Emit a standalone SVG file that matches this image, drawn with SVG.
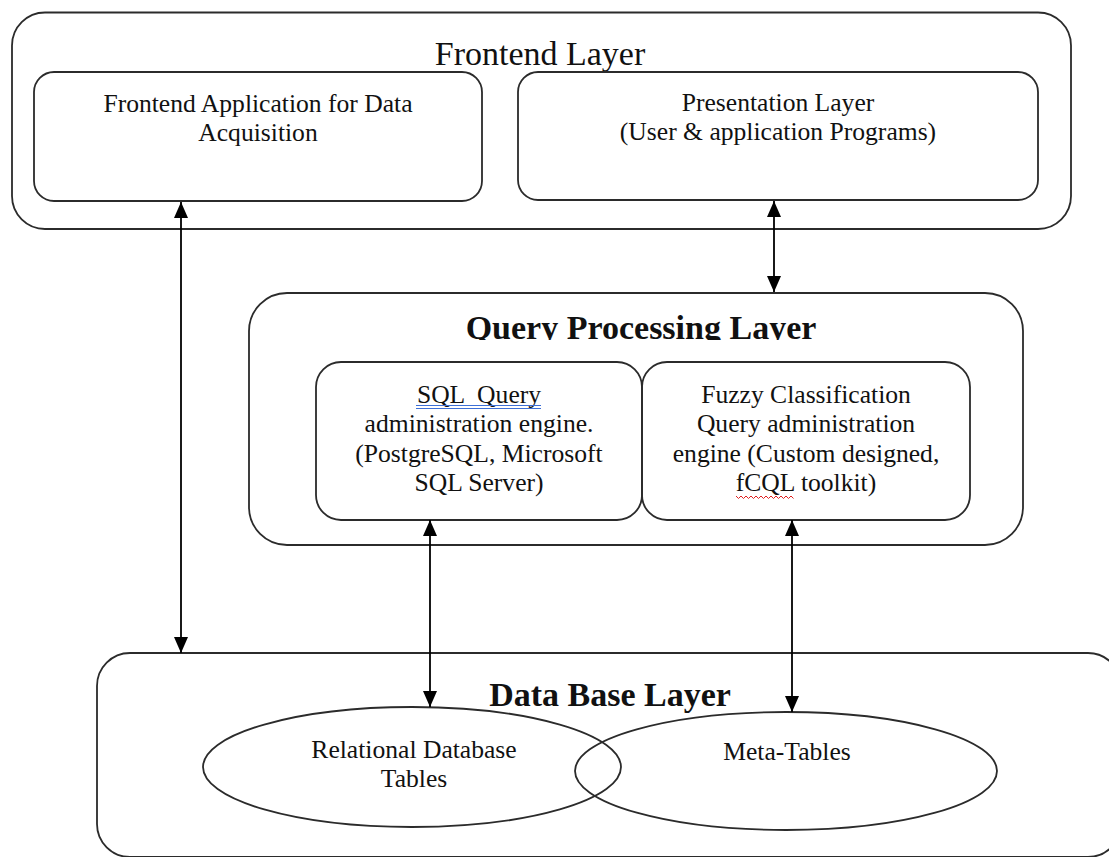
<svg xmlns="http://www.w3.org/2000/svg" width="1109" height="857" viewBox="0 0 1109 857">
<style>
.box{fill:none;stroke:#2b2b2b;stroke-width:1.8}
.t{font-family:"Liberation Serif","Times New Roman",serif;font-size:25.6px;fill:#111;text-anchor:middle}
.title{font-family:"Liberation Serif","Times New Roman",serif;font-size:34px;fill:#111;text-anchor:middle}
.bold{font-weight:bold}
.arrow{stroke:#000;stroke-width:1.8;fill:none;marker-start:url(#ah);marker-end:url(#ah)}
</style>
<defs>
<marker id="ah" markerUnits="userSpaceOnUse" markerWidth="16" markerHeight="14" refX="16" refY="7" orient="auto-start-reverse">
<path d="M0,0 L16,7 L0,14 z" fill="#000"/>
</marker>
<clipPath id="qclip"><rect x="249" y="300" width="774" height="40"/></clipPath>
</defs>
<rect width="1109" height="857" fill="#fff"/>

<g id="frontend-layer">
<rect class="box" x="12" y="12.5" width="1059" height="216.5" rx="33"/>
<text class="title" x="540" y="65">Frontend Layer</text>
</g>
<g id="frontend-app">
<rect class="box" x="34" y="72" width="448" height="129" rx="20"/>
<text class="t" x="258" y="112">Frontend Application for Data</text>
<text class="t" x="258" y="141">Acquisition</text>
</g>
<g id="presentation-layer">
<rect class="box" x="518" y="72" width="520" height="128" rx="20"/>
<text class="t" x="778" y="111">Presentation Layer</text>
<text class="t" x="778" y="140">(User &amp; application Programs)</text>
</g>

<g id="query-layer">
<rect class="box" x="249" y="293" width="774" height="252" rx="38"/>
<text class="title bold" x="641" y="339" clip-path="url(#qclip)">Query Processing Layer</text>
</g>
<g id="sql-engine">
<rect class="box" x="316" y="362" width="326" height="158" rx="25"/>
<text class="t" x="479" y="403" style="white-space:pre">SQL  Query</text>
<line x1="416" y1="405.5" x2="541" y2="405.5" stroke="#3d6fd6" stroke-width="1.2"/>
<line x1="416" y1="408.5" x2="541" y2="408.5" stroke="#3d6fd6" stroke-width="1.2"/>
<text class="t" x="479" y="432">administration engine.</text>
<text class="t" x="479" y="462">(PostgreSQL, Microsoft</text>
<text class="t" x="479" y="491">SQL Server)</text>
</g>
<g id="fuzzy-engine">
<rect class="box" x="642" y="362" width="328" height="158" rx="25"/>
<text class="t" x="806" y="403">Fuzzy Classification</text>
<text class="t" x="806" y="432">Query administration</text>
<text class="t" x="806" y="462">engine (Custom designed,</text>
<text class="t" x="806" y="491">fCQL toolkit)</text>
<path d="M736,496 l2.5,2.5 l2.5,-2.5 l2.5,2.5 l2.5,-2.5 l2.5,2.5 l2.5,-2.5 l2.5,2.5 l2.5,-2.5 l2.5,2.5 l2.5,-2.5 l2.5,2.5 l2.5,-2.5 l2.5,2.5 l2.5,-2.5 l2.5,2.5 l2.5,-2.5 l2.5,2.5 l2.5,-2.5 l2.5,2.5 l2.5,-2.5 l2.5,2.5 l2.5,-2.5 l2.5,2.5" fill="none" stroke="#e02020" stroke-width="1"/>
</g>

<g id="db-layer">
<rect class="box" x="97" y="653" width="1024" height="204" rx="33"/>
<text class="title bold" x="610" y="706">Data Base Layer</text>
</g>
<g id="relational-tables">
<ellipse class="box" cx="412" cy="767" rx="209" ry="60"/>
<text class="t" x="414" y="758">Relational Database</text>
<text class="t" x="414" y="787">Tables</text>
</g>
<g id="meta-tables">
<ellipse class="box" cx="786" cy="771" rx="211" ry="59"/>
<text class="t" x="787" y="760">Meta-Tables</text>
</g>

<g id="connectors">
<line class="arrow" x1="181" y1="202" x2="181" y2="653"/>
<line class="arrow" x1="774" y1="201" x2="774" y2="292"/>
<line class="arrow" x1="430" y1="520" x2="430" y2="707"/>
<line class="arrow" x1="792" y1="520" x2="792" y2="712"/>
</g>
</svg>
